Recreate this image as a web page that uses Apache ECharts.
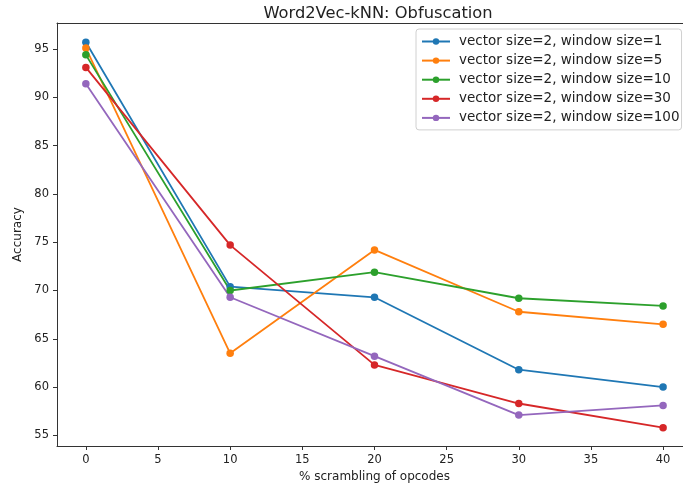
<!DOCTYPE html>
<html>
<head>
<meta charset="utf-8">
<script src="https://cdn.jsdelivr.net/npm/echarts@6/dist/echarts.min.js"></script>
<style>html,body{margin:0;padding:0;background:#fff;}#c{width:683px;height:485px;}</style>
</head>
<body>
<div id="c"></div>
<script>
const xValues = [0, 10, 20, 30, 40];
const seriesNames = [
  'vector size=2, window size=1',
  'vector size=2, window size=5',
  'vector size=2, window size=10',
  'vector size=2, window size=30',
  'vector size=2, window size=100'
];
const w1 = [95.7, 70.4, 69.3, 61.8, 60.0];
const w5 = [95.1, 63.5, 74.2, 67.8, 66.5];
const w10 = [94.4, 70.0, 71.9, 69.2, 68.4];
const w30 = [93.1, 74.7, 62.3, 58.3, 55.8];
const w100 = [91.4, 69.3, 63.2, 57.1, 58.1];
const xTicks = [0, 5, 10, 15, 20, 25, 30, 35, 40];
const yTicks = [55, 60, 65, 70, 75, 80, 85, 90, 95];
const colors = ['#1f77b4', '#ff7f0e', '#2ca02c', '#d62728', '#9467bd'];
const allSeries = [w1, w5, w10, w30, w100];

const font = 'DejaVu Sans';
const spine = '#333';
const chart = echarts.init(document.getElementById('c'), null, {renderer: 'canvas'});
chart.setOption({
  animation: false,
  backgroundColor: '#fff',
  title: {
    text: 'Word2Vec-kNN: Obfuscation',
    left: 373, top: 1, textAlign: 'center',
    textStyle: {fontFamily: font, fontSize: 16.3, fontWeight: 'normal', color: '#222'}
  },
  legend: {
    orient: 'vertical',
    left: 416, top: 29,
    padding: [5.5, 2, 5, 5],
    itemGap: 5.1,
    itemWidth: 28, itemHeight: 8,
    borderColor: '#d0d0d0', borderWidth: 1, borderRadius: 3,
    backgroundColor: 'rgba(255,255,255,0.8)',
    textStyle: {fontFamily: font, fontSize: 13.5, color: '#222', padding: [0, 0, 0, 4]},
    data: seriesNames
  },
  grid: {left: 57, right: 0, top: 23, bottom: 39, containLabel: false, outerBoundsMode: 'none', show: false},
  xAxis: [{
    type: 'value', min: -2, max: 41.38,
    name: '% scrambling of opcodes', nameLocation: 'start', nameGap: 0,
    nameTextStyle: {fontFamily: font, fontSize: 12, color: '#222', align: 'center', verticalAlign: 'top', padding: [25, 0, 0, 635]},
    axisLine: {show: true, onZero: false, lineStyle: {color: spine, width: 1}},
    axisTick: {show: true, length: 4, customValues: xTicks, lineStyle: {color: spine}},
    axisLabel: {customValues: xTicks, fontFamily: font, fontSize: 11.5, color: '#222', margin: 8},
    splitLine: {show: false}
  }, {
    type: 'value', min: -2, max: 41.38, position: 'top',
    axisLine: {show: true, onZero: false, lineStyle: {color: spine, width: 1}},
    axisTick: {show: false}, axisLabel: {show: false}, splitLine: {show: false}
  }],
  yAxis: {
    type: 'value', min: 53.9, max: 97.7,
    name: 'Accuracy', nameLocation: 'middle', nameGap: 31,
    nameTextStyle: {fontFamily: font, fontSize: 12, color: '#222'},
    axisLine: {show: true, onZero: false, lineStyle: {color: spine, width: 1}},
    axisTick: {show: true, length: 4, customValues: yTicks, lineStyle: {color: spine}},
    axisLabel: {customValues: yTicks, fontFamily: font, fontSize: 11.5, color: '#222', margin: 8},
    splitLine: {show: false}
  },
  series: allSeries.map((vals, i) => ({
    name: seriesNames[i],
    type: 'line',
    xAxisIndex: 0,
    data: xValues.map((x, j) => [x, vals[j]]),
    symbol: 'circle', symbolSize: 7.5,
    itemStyle: {color: colors[i]},
    lineStyle: {color: colors[i], width: 1.8}
  }))
});
</script>
</body>
</html>
